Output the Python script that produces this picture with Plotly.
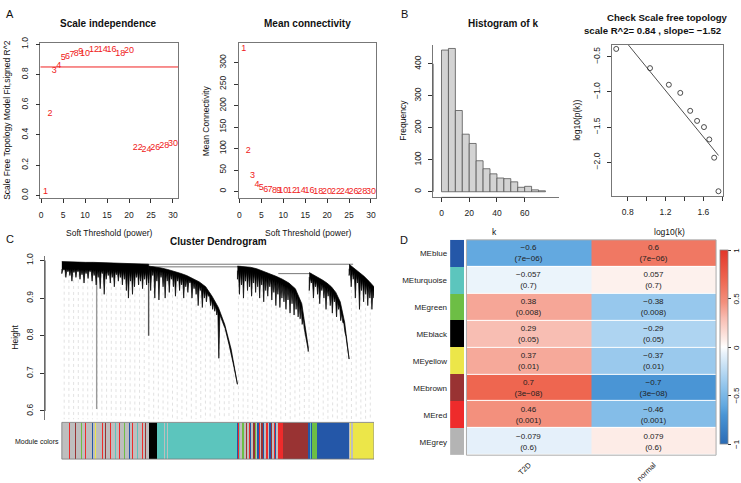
import numpy as np
import plotly.graph_objects as go

W, H = 741, 483

# ---------- panel A : soft threshold ----------
powers = [1, 2, 3, 4, 5, 6, 7, 8, 9, 10, 12, 14, 16, 18, 20, 22, 24, 26, 28, 30]
sft_r2 = [0.026, 0.54, 0.826, 0.86, 0.91, 0.915, 0.93, 0.935, 0.95, 0.94,
          0.965, 0.965, 0.965, 0.937, 0.955, 0.316, 0.30, 0.316, 0.327, 0.344]
mean_k = [332, 94, 36, 15, 8, 5, 3.5, 2.6, 2, 1.6,
          1.1, 0.8, 0.6, 0.5, 0.4, 0.3, 0.25, 0.2, 0.18, 0.15]
r2_cut = 0.85

# ---------- panel B : connectivity ----------
k_breaks = [0, 5, 10, 15, 20, 25, 30, 35, 40, 45, 50, 55, 60, 65, 70, 75]
k_counts = [443, 448, 254, 180, 151, 97, 72, 56, 43, 41, 31, 14, 17, 6, 3]
log_k = [0.678, 1.036, 1.235, 1.356, 1.461, 1.534, 1.607, 1.663, 1.715, 1.760]
log_pk = [-0.389, -0.662, -0.898, -1.014, -1.269, -1.412, -1.50, -1.676, -1.935, -2.412]

# ---------- panel C : dendrogram + module colours ----------
mod_palette = {"grey": "#BEBEBE", "turquoise": "#5CC5BD", "blue": "#2457A8",
               "brown": "#993333", "yellow": "#ECE649", "green": "#6DBE45",
               "red": "#EE2B2B", "black": "#000000"}
module_segments = [
    ("grey", 40), ("red", 6), ("grey", 34), ("brown", 5), ("grey", 28), ("green", 5),
    ("grey", 22), ("red", 6), ("grey", 32), ("blue", 6), ("grey", 14), ("yellow", 6),
    ("grey", 32), ("red", 6), ("grey", 14), ("brown", 6), ("grey", 22), ("red", 6),
    ("grey", 24), ("turquoise", 6), ("grey", 22), ("red", 6), ("grey", 24), ("green", 6),
    ("grey", 20), ("blue", 6), ("grey", 16), ("red", 6), ("grey", 24), ("turquoise", 6),
    ("grey", 20), ("red", 6), ("grey", 14), ("brown", 6), ("grey", 14),
    ("black", 53),
    ("turquoise", 18), ("grey", 5), ("turquoise", 14), ("grey", 5), ("turquoise", 14),
    ("grey", 4), ("turquoise", 20), ("turquoise", 395),
    ("blue", 6), ("red", 5), ("turquoise", 6), ("grey", 10), ("green", 14), ("grey", 8),
    ("brown", 10), ("grey", 8), ("red", 6), ("blue", 8), ("grey", 12), ("brown", 10),
    ("green", 6), ("grey", 10), ("blue", 8), ("red", 6), ("grey", 10), ("brown", 12),
    ("blue", 6), ("grey", 12), ("red", 8), ("grey", 10), ("blue", 8), ("brown", 10),
    ("grey", 8), ("red", 8), ("blue", 6), ("grey", 12),
    ("red", 30), ("brown", 148),
    ("blue", 10), ("turquoise", 5), ("blue", 8), ("green", 30), ("blue", 190),
    ("grey", 8), ("yellow", 6), ("grey", 8), ("yellow", 8), ("yellow", 118),
]

# branch spans in leaf order, upper (merge) profile, solid band depth, leaf tips
branch_spans = [(0, 516), (516, 1044), (1044, 1465), (1471, 1708), (1708, 1856)]
band_depth = [0.02, 0.009, 0.012, 0.012, 0.012]
grey_top = [0.997, 0.996, 0.996, 0.995, 0.995, 0.994, 0.994, 0.993, 0.993, 0.992, 0.991, 0.99]
grey_tips = [0.965, 0.975, 0.955, 0.97, 0.96, 0.945, 0.968, 0.955, 0.97, 0.95, 0.962,
             0.94, 0.965, 0.952, 0.97, 0.945, 0.96, 0.935, 0.955, 0.925, 0.965, 0.91,
             0.95, 0.96, 0.94, 0.955, 0.93, 0.962, 0.945, 0.955, 0.935, 0.95, 0.92,
             0.9, 0.945, 0.91, 0.93, 0.955, 0.935, 0.945, 0.925, 0.95, 0.935, 0.94]
turq_top = [0.985, 0.983, 0.98, 0.976, 0.972, 0.966, 0.96, 0.952, 0.943, 0.93,
            0.905, 0.875, 0.83, 0.765, 0.68]
turq_tips = [0.95, 0.92, 0.96, 0.9, 0.945, 0.895, 0.955, 0.93, 0.9, 0.945, 0.915,
             0.95, 0.93, 0.905, 0.945, 0.92, 0.935, 0.9, 0.93, 0.915, 0.94, 0.9,
             0.925, 0.91, 0.88, 0.92, 0.875, 0.9, 0.89, 0.905, 0.88, 0.87, 0.865,
             0.855, 0.74, 0.85, 0.835, 0.82, 0.8, 0.775, 0.755, 0.725, 0.70, 0.672]
brown_top = [0.985, 0.984, 0.982, 0.978, 0.972, 0.965, 0.958, 0.95, 0.94, 0.925, 0.885, 0.77]
brown_tips = [0.95, 0.91, 0.935, 0.9, 0.945, 0.92, 0.93, 0.905, 0.94, 0.915, 0.93, 0.9,
              0.935, 0.89, 0.92, 0.905, 0.93, 0.895, 0.915, 0.88, 0.91, 0.875, 0.9,
              0.89, 0.87, 0.895, 0.86, 0.885, 0.855, 0.87, 0.85, 0.845, 0.83, 0.82,
              0.79, 0.762]
blue_top = [0.968, 0.962, 0.955, 0.948, 0.94, 0.93, 0.915, 0.89, 0.835, 0.75]
blue_tips = [0.92, 0.94, 0.9, 0.93, 0.91, 0.885, 0.92, 0.9, 0.87, 0.905, 0.88, 0.86,
             0.89, 0.85, 0.87, 0.84, 0.835, 0.81, 0.78, 0.745]
yellow_top = [0.99, 0.98, 0.97, 0.958, 0.945, 0.93]
yellow_tips = [0.96, 0.93, 0.95, 0.9, 0.94, 0.87, 0.92, 0.89, 0.91, 0.88, 0.9, 0.87, 0.9]
stem_leaf = [207, 516]
stem_top = [0.99, 0.985]
stem_bottom = [0.605, 0.80]
stem_color = ["#999999", "#555555"]
merge_x0 = [237, 534, 1287]
merge_x1 = [1732, 1067, 1483]
merge_h = [0.99, 0.983, 0.965]

# ---------- panel D : module-trait heatmap ----------
me_names = ["MEblue", "MEturquoise", "MEgreen", "MEblack", "MEyellow", "MEbrown", "MEred", "MEgrey"]
me_colors = ["#2457A8", "#5CC5BD", "#6DBE45", "#000000", "#ECE649", "#993333", "#EE2B2B", "#B4B4B4"]
traits = ["T2D", "normal"]
cor_t2d = [-0.6, -0.057, 0.38, 0.29, 0.37, 0.7, 0.46, -0.079]
cor_normal = [0.6, 0.057, -0.38, -0.29, -0.37, -0.7, -0.46, 0.079]
p_vals = [7e-06, 0.7, 0.008, 0.05, 0.01, 3e-08, 0.001, 0.6]
cbar_ticks = [-1, -0.5, 0, 0.5, 1]


def fx(x):
    return x / W


def fy(y):
    return 1 - y / H


def minus(s):
    return s.replace("-", "\u2212")


fig = go.Figure()

# A1 scale independence
fig.add_trace(go.Scatter(x=powers, y=sft_r2, mode="text", text=[str(p) for p in powers],
                         textfont=dict(color="#F02020", size=9), xaxis="x", yaxis="y"))
fig.add_shape(type="line", xref="x domain", yref="y", x0=0, x1=1, y0=r2_cut, y1=r2_cut,
              line=dict(color="#F02020", width=1))
# A2 mean connectivity
fig.add_trace(go.Scatter(x=powers, y=mean_k, mode="text", text=[str(p) for p in powers],
                         textfont=dict(color="#F02020", size=9), xaxis="x2", yaxis="y2"))

# B1 histogram
centers = [(a + b) / 2 for a, b in zip(k_breaks[:-1], k_breaks[1:])]
fig.add_trace(go.Bar(x=centers, y=k_counts, width=5, xaxis="x3", yaxis="y3",
                     marker=dict(color="#D3D3D3", line=dict(color="#555555", width=0.8))))
fig.add_shape(type="line", xref="x3", yref="y3 domain", x0=0, x1=60, y0=0, y1=0,
              line=dict(color="#444", width=0.8))
fig.add_shape(type="line", xref="x3 domain", yref="y3", x0=0, x1=0, y0=0, y1=400,
              line=dict(color="#444", width=0.8))

# B2 scale free fit
slope, icpt = np.polyfit(log_k, log_pk, 1)
lx = np.array([min(log_k), max(log_k)])
fig.add_trace(go.Scatter(x=lx, y=slope * lx + icpt, mode="lines", line=dict(color="#222", width=0.8),
                         xaxis="x4", yaxis="y4"))
fig.add_trace(go.Scatter(x=log_k, y=log_pk, mode="markers", xaxis="x4", yaxis="y4",
                         marker=dict(symbol="circle-open", size=5, color="#222", line=dict(width=0.8))))

# C dendrogram
N = sum(n for _, n in module_segments)
tops = [grey_top, turq_top, brown_top, blue_top, yellow_top]
tips = [grey_tips, turq_tips, brown_tips, blue_tips, yellow_tips]
spine_x, spine_y = [], []
for (a, b), t in zip(branch_spans, tops):
    spine_x += list(np.linspace(a, b, len(t)))
    spine_y += t
guide_x = np.arange(14, N, 28)
gx, gy = [], []
for g in guide_x:
    gx += [g, g, None]
    gy += [float(np.interp(g, spine_x, spine_y)), 0.578, None]
fig.add_trace(go.Scatter(x=gx, y=gy, mode="lines", xaxis="x5", yaxis="y5",
                         line=dict(color="#D6D6D6", width=0.7, dash="dot")))
for s, t0, t1, c in zip(stem_leaf, stem_top, stem_bottom, stem_color):
    fig.add_trace(go.Scatter(x=[s, s], y=[t0, t1], mode="lines", xaxis="x5", yaxis="y5",
                             line=dict(color=c, width=1.4)))
for a, b, h in zip(merge_x0, merge_x1, merge_h):
    fig.add_trace(go.Scatter(x=[a, b], y=[h, h], mode="lines", xaxis="x5", yaxis="y5",
                             line=dict(color="#777", width=1)))
for (a, b), t, tp, d in zip(branch_spans, tops, tips, band_depth):
    xt = np.linspace(a, b, len(t))
    xb = np.linspace(a, b, len(tp))
    half = (b - a) / (len(tp) - 1) / 2
    # lower edge: each leaf tip hangs as a narrow tapered sub-branch below the solid band
    lo_x, lo_y = [], []
    for x, y in zip(xb, tp):
        for xx, yy in ((x - half, None), (x, y), (x + half, None)):
            xx = min(max(xx, a), b)
            lo_x.append(xx)
            lo_y.append(yy if yy is not None else float(np.interp(xx, xt, t)) - d)
    fig.add_trace(go.Scatter(x=list(xt) + lo_x[::-1], y=list(t) + lo_y[::-1], mode="lines",
                             fill="toself", fillcolor="#000", line=dict(color="#000", width=0.7),
                             xaxis="x5", yaxis="y5"))

mod_names = list(mod_palette)
codes = np.concatenate([np.full(n, mod_names.index(m)) for m, n in module_segments])
K = len(mod_names)
mod_scale = []
for i, m in enumerate(mod_names):
    mod_scale += [[i / K, mod_palette[m]], [(i + 1) / K, mod_palette[m]]]
fig.add_trace(go.Heatmap(z=[codes], x0=0.5, dx=1, zmin=-0.5, zmax=K - 0.5, colorscale=mod_scale,
                         showscale=False, xaxis="x6", yaxis="y6", hoverinfo="skip"))
fig.add_shape(type="rect", xref="x6", yref="y6 domain", x0=0, x1=N, y0=0, y1=1,
              line=dict(color="#777", width=0.8))

# D heatmap
z = [[a, b] for a, b in zip(cor_t2d, cor_normal)]


def ptxt(p):
    return f"{p:.0e}" if p < 1e-4 else f"{p:g}"


txt = [[minus(f"{a:g}<br>({ptxt(p)})"), minus(f"{b:g}<br>({ptxt(p)})")]
       for a, b, p in zip(cor_t2d, cor_normal, p_vals)]
cor_scale = [[0.0, "#2A6BB5"], [0.15, "#4A95D5"], [0.2, "#63A9E0"], [0.3, "#92C5EC"],
             [0.47, "#EAF3FB"], [0.5, "#FFFFFF"], [0.53, "#FDF0EC"], [0.65, "#F8BCB1"],
             [0.73, "#F3907D"], [0.85, "#EE6650"], [1.0, "#E2362A"]]
cb_top, cb_len = 249.0, 197.7
fig.add_trace(go.Heatmap(z=z, x=traits, y=me_names, zmin=-1, zmax=1, colorscale=cor_scale,
                         text=txt, texttemplate="%{text}", textfont=dict(size=8, color="#222"),
                         ygap=1, xaxis="x7", yaxis="y7",
                         colorbar=dict(x=fx(720), xanchor="left", y=fy(cb_top + cb_len / 2),
                                       yanchor="middle", len=cb_len / H, thickness=8.3,
                                       xpad=0, ypad=0, tickvals=cbar_ticks, showticklabels=False,
                                       ticks="outside", ticklen=3, tickcolor="#333",
                                       outlinewidth=0.8, outlinecolor="#888")))
col_scale = []
for i, c in enumerate(me_colors):
    col_scale += [[i / 8, c], [(i + 1) / 8, c]]
fig.add_trace(go.Heatmap(z=[[i] for i in range(8)], x=["c"], y=me_names, zmin=-0.5, zmax=7.5,
                         colorscale=col_scale, showscale=False, xaxis="x8", yaxis="y7"))
fig.add_shape(type="rect", xref="x7 domain", yref="y7 domain", x0=0, x1=1, y0=0, y1=1,
              line=dict(color="#AAAAAA", width=1))

common = dict(showgrid=False, zeroline=False, ticks="outside", ticklen=4, tickwidth=0.8,
              tickcolor="#333", tickfont=dict(size=8.5, color="#222"), linecolor="#777",
              linewidth=0.8)
boxed = dict(common, showline=True, mirror=True)

fig.update_layout(
    width=W, height=H, margin=dict(l=0, r=0, t=0, b=0), autosize=False,
    paper_bgcolor="white", plot_bgcolor="white", showlegend=False,
    font=dict(family="Liberation Sans, Arial, sans-serif", size=8.5, color="#222"),
    xaxis=dict(boxed, domain=[fx(38.6), fx(176.5)], range=[-0.16, 31.16],
               tickvals=[0, 5, 10, 15, 20, 25, 30], ticklabelstandoff=4),
    yaxis=dict(boxed, domain=[fy(196.1), fy(37.8)], range=[-0.02, 1.008],
               tickvals=[0, 0.2, 0.4, 0.6, 0.8, 1.0], tickformat=".1f", tickangle=-90,
               ticklabelstandoff=4),
    xaxis2=dict(boxed, domain=[fx(237.3), fx(375.1)], range=[-0.16, 31.16],
                tickvals=[0, 5, 10, 15, 20, 25, 30], anchor="y2", ticklabelstandoff=4),
    yaxis2=dict(boxed, domain=[fy(196.1), fy(37.8)], range=[-16.2, 345.4],
                tickvals=[0, 50, 100, 150, 200, 250, 300], tickangle=-90, anchor="x2",
                ticklabelstandoff=4),
    xaxis3=dict(common, domain=[fx(432.3), fx(558.8)], range=[-6.05, 85],
                tickvals=[0, 20, 40, 60], anchor="y3", ticklabelstandoff=4),
    yaxis3=dict(common, domain=[fy(195), fy(40)], range=[-17.5, 458],
                tickvals=[0, 100, 200, 300, 400], tickangle=-90, anchor="x3", ticklabelstandoff=4),
    xaxis4=dict(boxed, domain=[fx(611.7), fx(723.3)], range=[0.634, 1.812],
                tickvals=[0.8, 1.0, 1.2, 1.4, 1.6, 1.8], ticktext=["0.8", "", "1.2", "", "1.6", ""],
                anchor="y4", ticklabelstandoff=4),
    yaxis4=dict(boxed, domain=[fy(194), fy(39.3)], range=[-2.485, -0.327],
                tickvals=[-0.5, -1.0, -1.5, -2.0, -2.5],
                ticktext=["\u22120.5", "\u22121.0", "\u22121.5", "\u22122.0", "\u22122.5"],
                tickangle=-90, anchor="x4", ticklabelstandoff=4),
    xaxis5=dict(domain=[fx(43.3), fx(373)], range=[-99, N], visible=False, anchor="y5"),
    yaxis5=dict(common, domain=[fy(422), fy(255)], range=[0.5757, 1.0112],
                tickvals=[0.6, 0.7, 0.8, 0.9, 1.0], tickformat=".1f", tickangle=-90,
                anchor="x5", ticklabelstandoff=4),
    xaxis6=dict(domain=[fx(43.3), fx(373)], range=[-99, N], visible=False, anchor="y6"),
    yaxis6=dict(domain=[fy(461.7), fy(424.3)], visible=False, anchor="x6"),
    xaxis7=dict(domain=[fx(465.7), fx(716)], anchor="y7", tickangle=-45, ticks="",
                tickfont=dict(size=7.5, color="#222"), showgrid=False, zeroline=False,
                ticklabelstandoff=3),
    yaxis7=dict(domain=[fy(457.7), fy(238.3)], anchor="x8", autorange="reversed", ticks="",
                tickfont=dict(size=8, color="#222"), showgrid=False, zeroline=False,
                ticklabelstandoff=2),
    xaxis8=dict(domain=[fx(449.3), fx(463.3)], anchor="y7", visible=False),
)
fig.add_shape(type="line", xref="x5 domain", yref="y5", x0=0, x1=0, y0=0.6, y1=1.0,
              line=dict(color="#444", width=0.8))


def ann(text, x, y, size=8.5, bold=False, angle=0, xanchor="center"):
    fig.add_annotation(text=f"<b>{text}</b>" if bold else text, x=fx(x), y=fy(y),
                       xref="paper", yref="paper", showarrow=False, textangle=angle,
                       xanchor=xanchor, yanchor="middle", font=dict(size=size, color="#111"))


ann("A", 2, 8, size=11, xanchor="left")
ann("Scale independence", 107, 18, size=10, bold=True)
ann("Mean connectivity", 306, 18, size=10, bold=True)
ann("Scale Free Topology Model Fit,signed R^2", 5, 116, angle=-90)
ann("Mean Connectivity", 204, 117, angle=-90)
ann("Soft Threshold (power)", 107, 231)
ann("Soft Threshold (power)", 307, 231)
ann("B", 398, 8, size=11, xanchor="left")
ann("Histogram of k", 502, 18, size=10, bold=True)
ann("Frequency", 402, 116, angle=-90)
ann("k", 494, 230)
ann("Check Scale free topology", 667, 12, size=9.6, bold=True)
ann("scale R^2= 0.84 , slope= \u22121.52", 652, 25, size=9.6, bold=True)
ann("log10(p(k))", 577, 116.6, angle=-90)
ann("log10(k)", 669, 230)
ann("C", 2, 237, size=11, xanchor="left")
ann("Cluster Dendrogram", 217, 240, size=10, bold=True)
ann("Height", 13, 337, angle=-90)
ann("Module colors", 35, 444, size=7)
ann("D", 397, 238, size=11, xanchor="left")
for v in cbar_ticks:
    ann(minus(f"{v:g}"), 736.5, cb_top + cb_len * (1 - v) / 2, size=8, angle=-90)

# the page body has a default 8px margin; drop it so the figure sits at the window origin
fig.write_html("out.html", config={"displayModeBar": False},
               post_script="document.body.style.margin='0';")
